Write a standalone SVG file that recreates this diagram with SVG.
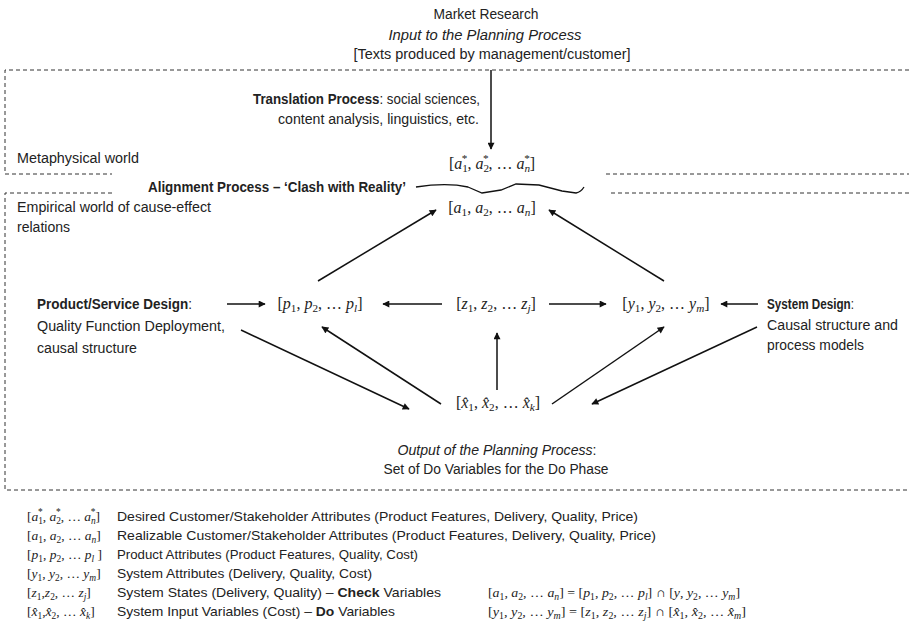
<svg xmlns="http://www.w3.org/2000/svg" width="909" height="621" viewBox="0 0 909 621">
<style>
.t{font-family:"Liberation Sans",Arial,sans-serif;font-size:14px;fill:#222}
.b{font-weight:bold}
.it{font-style:italic}
.lg{font-family:"Liberation Sans",Arial,sans-serif;font-size:13px;fill:#222}
.m{font-family:"Liberation Serif","DejaVu Serif",serif;font-size:16px;fill:#222}
.ml{font-family:"Liberation Serif","DejaVu Serif",serif;font-size:13.5px;fill:#222}
.i{font-style:italic}
.s{font-size:70%}
.dash{fill:none;stroke:#333;stroke-width:1;stroke-dasharray:4 3}
.c{fill:none;stroke:#111;stroke-width:1.5}
</style>
<defs>
<marker id="ah" viewBox="0 0 10 10" refX="9" refY="5" markerWidth="9" markerHeight="7" markerUnits="userSpaceOnUse" orient="auto">
<path d="M0,0 L10,5 L0,10 z" fill="#111"/>
</marker>
</defs>

<g id="frames">
<path class="dash" d="M909,70 H5 V174 H112"/>
<path class="dash" d="M112,193 H5 V490 H909"/>
<path class="dash" d="M606,174 H909"/>
<path class="dash" d="M611,193 H909"/>
</g>

<g id="header">
<text class="t" x="486" y="19" text-anchor="middle" textLength="105" lengthAdjust="spacingAndGlyphs">Market Research</text>
<text class="t it" x="485" y="40" text-anchor="middle" textLength="193" lengthAdjust="spacingAndGlyphs">Input to the Planning Process</text>
<text class="t" x="492" y="59" text-anchor="middle" textLength="277" lengthAdjust="spacingAndGlyphs">[Texts produced by management/customer]</text>
</g>

<g id="translation">
<text class="t" x="480" y="104" text-anchor="end" textLength="227" lengthAdjust="spacingAndGlyphs"><tspan class="b">Translation Process</tspan>: social sciences,</text>
<text class="t" x="479" y="124" text-anchor="end" textLength="201" lengthAdjust="spacingAndGlyphs">content analysis, linguistics, etc.</text>
</g>

<g id="metaphysical">
<text class="t" x="17" y="163" textLength="122" lengthAdjust="spacingAndGlyphs">Metaphysical world</text>
</g>

<g id="alignment">
<text class="t b" x="148" y="192" textLength="258" lengthAdjust="spacingAndGlyphs">Alignment Process – ‘Clash with Reality’</text>
<path d="M416,187 C435,184 455,184 468,187 L482,193 L501,190 L516,184 L539,185 L562,191 L576,193 Q581,192 584,187" fill="none" stroke="#111" stroke-width="1.3"/>
</g>

<g id="empirical">
<text class="t" x="17" y="212" textLength="194" lengthAdjust="spacingAndGlyphs">Empirical world of cause-effect</text>
<text class="t" x="17" y="232" textLength="53" lengthAdjust="spacingAndGlyphs">relations</text>
</g>

<g id="node-astar">
<text class="m" x="492" y="169" text-anchor="middle">[<tspan class="i">a</tspan><tspan class="s" dy="3">1</tspan><tspan class="s" dx="-6" dy="-10">*</tspan><tspan dy="7">, </tspan><tspan class="i">a</tspan><tspan class="s" dy="3">2</tspan><tspan class="s" dx="-6" dy="-10">*</tspan><tspan dy="7">, … </tspan><tspan class="i">a</tspan><tspan class="s i" dy="3">n</tspan><tspan class="s" dx="-6" dy="-10">*</tspan><tspan dy="7">]</tspan></text>
</g>

<g id="node-a">
<text class="m" x="492" y="213" text-anchor="middle">[<tspan class="i">a</tspan><tspan class="s" dy="3">1</tspan><tspan dy="-3">, </tspan><tspan class="i">a</tspan><tspan class="s" dy="3">2</tspan><tspan dy="-3">, … </tspan><tspan class="i">a</tspan><tspan class="s i" dy="3">n</tspan><tspan dy="-3">]</tspan></text>
</g>

<g id="node-psd">
<text class="t" x="37" y="309" textLength="155" lengthAdjust="spacingAndGlyphs"><tspan class="b">Product/Service Design</tspan>:</text>
<text class="t" x="37" y="331" textLength="188" lengthAdjust="spacingAndGlyphs">Quality Function Deployment,</text>
<text class="t" x="37" y="353" textLength="100" lengthAdjust="spacingAndGlyphs">causal structure</text>
</g>

<g id="node-p">
<text class="m" x="320" y="309" text-anchor="middle">[<tspan class="i">p</tspan><tspan class="s" dy="3">1</tspan><tspan dy="-3">, </tspan><tspan class="i">p</tspan><tspan class="s" dy="3">2</tspan><tspan dy="-3">, … </tspan><tspan class="i">p</tspan><tspan class="s i" dy="3">l</tspan><tspan dy="-3">]</tspan></text>
</g>

<g id="node-z">
<text class="m" x="496" y="309" text-anchor="middle">[<tspan class="i">z</tspan><tspan class="s" dy="3">1</tspan><tspan dy="-3">, </tspan><tspan class="i">z</tspan><tspan class="s" dy="3">2</tspan><tspan dy="-3">, … </tspan><tspan class="i">z</tspan><tspan class="s i" dy="3">j</tspan><tspan dy="-3">]</tspan></text>
</g>

<g id="node-y">
<text class="m" x="666" y="309" text-anchor="middle">[<tspan class="i">y</tspan><tspan class="s" dy="3">1</tspan><tspan dy="-3">, </tspan><tspan class="i">y</tspan><tspan class="s" dy="3">2</tspan><tspan dy="-3">, … </tspan><tspan class="i">y</tspan><tspan class="s i" dy="3">m</tspan><tspan dy="-3">]</tspan></text>
</g>

<g id="node-sd">
<text class="t" x="767" y="309" textLength="87" lengthAdjust="spacingAndGlyphs"><tspan class="b">System Design</tspan>:</text>
<text class="t" x="767" y="330" textLength="131" lengthAdjust="spacingAndGlyphs">Causal structure and</text>
<text class="t" x="767" y="350" textLength="97" lengthAdjust="spacingAndGlyphs">process models</text>
</g>

<g id="node-x">
<text class="m" x="498" y="408" text-anchor="middle">[<tspan class="i">x&#x302;</tspan><tspan class="s" dy="3">1</tspan><tspan dy="-3">, </tspan><tspan class="i">x&#x302;</tspan><tspan class="s" dy="3">2</tspan><tspan dy="-3">, … </tspan><tspan class="i">x&#x302;</tspan><tspan class="s i" dy="3">k</tspan><tspan dy="-3">]</tspan></text>
</g>

<g id="output">
<text class="t it" x="497" y="455" text-anchor="middle" textLength="199" lengthAdjust="spacingAndGlyphs">Output of the Planning Process<tspan font-style="normal">:</tspan></text>
<text class="t" x="496" y="474" text-anchor="middle" textLength="225" lengthAdjust="spacingAndGlyphs">Set of Do Variables for the Do Phase</text>
</g>

<g id="connectors">
<line class="c" x1="491" y1="70" x2="491" y2="149" marker-end="url(#ah)"/>
<line class="c" x1="318" y1="281" x2="436" y2="210" marker-end="url(#ah)"/>
<line class="c" x1="664" y1="281" x2="549" y2="210" marker-end="url(#ah)"/>
<line class="c" x1="227" y1="304" x2="265" y2="304" marker-end="url(#ah)"/>
<line class="c" x1="442" y1="304" x2="383" y2="304" marker-end="url(#ah)"/>
<line class="c" x1="549" y1="304" x2="606" y2="304" marker-end="url(#ah)"/>
<line class="c" x1="758" y1="304" x2="721" y2="304" marker-end="url(#ah)"/>
<line class="c" x1="241" y1="330" x2="409" y2="409" marker-end="url(#ah)"/>
<line class="c" x1="441" y1="404" x2="322" y2="327" marker-end="url(#ah)"/>
<line class="c" x1="497" y1="390" x2="497" y2="333" marker-end="url(#ah)"/>
<line class="c" x1="552" y1="404" x2="664" y2="327" marker-end="url(#ah)"/>
<line class="c" x1="757" y1="327" x2="592" y2="404" marker-end="url(#ah)"/>
</g>

<g id="legend">
<text class="ml" x="27" y="521">[<tspan class="i">a</tspan><tspan class="s" dy="3">1</tspan><tspan class="s" dx="-5" dy="-9">*</tspan><tspan dy="6">, </tspan><tspan class="i">a</tspan><tspan class="s" dy="3">2</tspan><tspan class="s" dx="-5" dy="-9">*</tspan><tspan dy="6">, … </tspan><tspan class="i">a</tspan><tspan class="s i" dy="3">n</tspan><tspan class="s" dx="-5" dy="-9">*</tspan><tspan dy="6">]</tspan></text>
<text class="lg" x="117" y="521" textLength="521" lengthAdjust="spacingAndGlyphs">Desired Customer/Stakeholder Attributes (Product Features, Delivery, Quality, Price)</text>

<text class="ml" x="27" y="540">[<tspan class="i">a</tspan><tspan class="s" dy="3">1</tspan><tspan dy="-3">, </tspan><tspan class="i">a</tspan><tspan class="s" dy="3">2</tspan><tspan dy="-3">, … </tspan><tspan class="i">a</tspan><tspan class="s i" dy="3">n</tspan><tspan dy="-3">]</tspan></text>
<text class="lg" x="117" y="540" textLength="539" lengthAdjust="spacingAndGlyphs">Realizable Customer/Stakeholder Attributes (Product Features, Delivery, Quality, Price)</text>

<text class="ml" x="27" y="559">[<tspan class="i">p</tspan><tspan class="s" dy="3">1</tspan><tspan dy="-3">, </tspan><tspan class="i">p</tspan><tspan class="s" dy="3">2</tspan><tspan dy="-3">, … </tspan><tspan class="i">p</tspan><tspan class="s i" dy="3">l</tspan><tspan dy="-3"> ]</tspan></text>
<text class="lg" x="117" y="559" textLength="301" lengthAdjust="spacingAndGlyphs">Product Attributes (Product Features, Quality, Cost)</text>

<text class="ml" x="27" y="578">[<tspan class="i">y</tspan><tspan class="s" dy="3">1</tspan><tspan dy="-3">, </tspan><tspan class="i">y</tspan><tspan class="s" dy="3">2</tspan><tspan dy="-3">, … </tspan><tspan class="i">y</tspan><tspan class="s i" dy="3">m</tspan><tspan dy="-3">]</tspan></text>
<text class="lg" x="117" y="578" textLength="255" lengthAdjust="spacingAndGlyphs">System Attributes (Delivery, Quality, Cost)</text>

<text class="ml" x="27" y="597">[<tspan class="i">z</tspan><tspan class="s" dy="3">1</tspan><tspan dy="-3">,</tspan><tspan class="i">z</tspan><tspan class="s" dy="3">2</tspan><tspan dy="-3">, … </tspan><tspan class="i">z</tspan><tspan class="s i" dy="3">j</tspan><tspan dy="-3">]</tspan></text>
<text class="lg" x="117" y="597" textLength="324" lengthAdjust="spacingAndGlyphs">System States (Delivery, Quality) – <tspan class="b">Check</tspan> Variables</text>

<text class="ml" x="27" y="616">[<tspan class="i">x&#x302;</tspan><tspan class="s" dy="3">1</tspan><tspan dy="-3">,</tspan><tspan class="i">x&#x302;</tspan><tspan class="s" dy="3">2</tspan><tspan dy="-3">, … </tspan><tspan class="i">x&#x302;</tspan><tspan class="s i" dy="3">k</tspan><tspan dy="-3">]</tspan></text>
<text class="lg" x="117" y="616" textLength="278" lengthAdjust="spacingAndGlyphs">System Input Variables (Cost) – <tspan class="b">Do</tspan> Variables</text>

<text class="ml" x="488" y="597" textLength="252" lengthAdjust="spacingAndGlyphs">[<tspan class="i">a</tspan><tspan class="s" dy="3">1</tspan><tspan dy="-3">, </tspan><tspan class="i">a</tspan><tspan class="s" dy="3">2</tspan><tspan dy="-3">, … </tspan><tspan class="i">a</tspan><tspan class="s i" dy="3">n</tspan><tspan dy="-3">] = [</tspan><tspan class="i">p</tspan><tspan class="s" dy="3">1</tspan><tspan dy="-3">, </tspan><tspan class="i">p</tspan><tspan class="s" dy="3">2</tspan><tspan dy="-3">, … </tspan><tspan class="i">p</tspan><tspan class="s i" dy="3">l</tspan><tspan dy="-3">] ∩ [</tspan><tspan class="i">y</tspan><tspan>, </tspan><tspan class="i">y</tspan><tspan class="s" dy="3">2</tspan><tspan dy="-3">, … </tspan><tspan class="i">y</tspan><tspan class="s i" dy="3">m</tspan><tspan dy="-3">]</tspan></text>
<text class="ml" x="488" y="616" textLength="258" lengthAdjust="spacingAndGlyphs">[<tspan class="i">y</tspan><tspan class="s" dy="3">1</tspan><tspan dy="-3">, </tspan><tspan class="i">y</tspan><tspan class="s" dy="3">2</tspan><tspan dy="-3">, … </tspan><tspan class="i">y</tspan><tspan class="s i" dy="3">m</tspan><tspan dy="-3">] = [</tspan><tspan class="i">z</tspan><tspan class="s" dy="3">1</tspan><tspan dy="-3">, </tspan><tspan class="i">z</tspan><tspan class="s" dy="3">2</tspan><tspan dy="-3">, … </tspan><tspan class="i">z</tspan><tspan class="s i" dy="3">j</tspan><tspan dy="-3">] ∩ [</tspan><tspan class="i">x&#x302;</tspan><tspan class="s" dy="3">1</tspan><tspan dy="-3">, </tspan><tspan class="i">x&#x302;</tspan><tspan class="s" dy="3">2</tspan><tspan dy="-3">, … </tspan><tspan class="i">x&#x302;</tspan><tspan class="s i" dy="3">m</tspan><tspan dy="-3">]</tspan></text>
</g>
</svg>
